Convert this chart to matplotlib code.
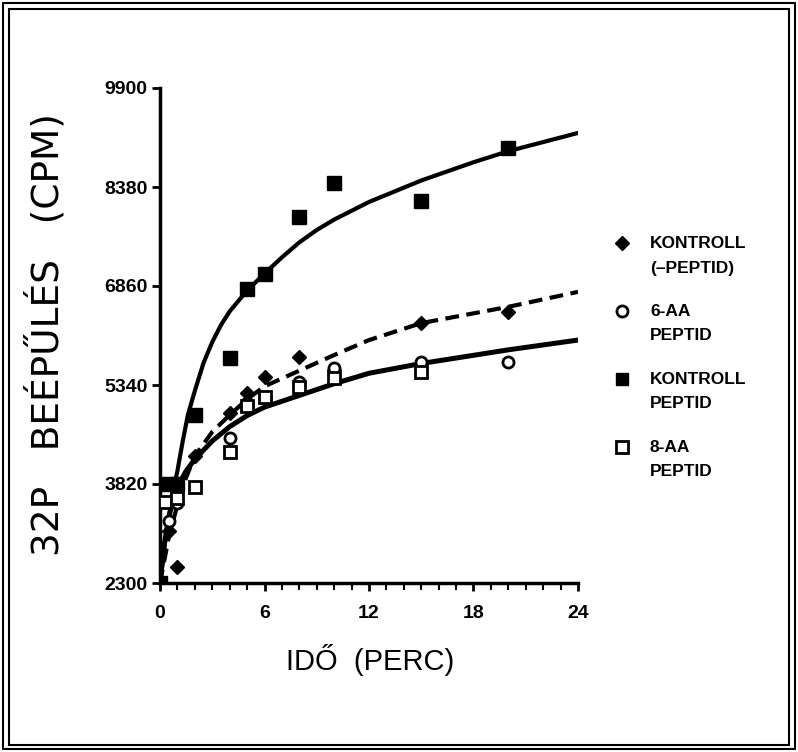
import matplotlib
matplotlib.use("Agg")
import matplotlib.pyplot as plt
from matplotlib.patches import Rectangle

plt.rcParams['font.family'] = ['Liberation Sans', 'DejaVu Sans']

# ---- data ----
x_kpep = [0, 0.5, 1, 2, 4, 5, 6, 8, 10, 15, 20]
y_kpep = [2300, 3820, 3820, 4880, 5750, 6810, 7040, 7920, 8440, 8160, 8980]

x_kmin = [0, 0.5, 1, 2, 4, 5, 6, 8, 10, 15, 20]
y_kmin = [2300, 3100, 2550, 4250, 4910, 5220, 5460, 5770, 5570, 6290, 6460]

x_6aa = [0.5, 1, 4, 5, 6, 8, 10, 15, 20]
y_6aa = [3250, 3530, 4530, 5060, 5140, 5390, 5600, 5700, 5690]

x_8aa = [0.3, 1, 2, 4, 5, 6, 8, 10, 15]
y_8aa = [3540, 3600, 3780, 4310, 5020, 5150, 5310, 5450, 5540]

# fitted curves as drawn in the picture
cx_top = [0, 0.25, 0.5, 0.75, 1, 1.3, 1.6, 2, 2.5, 3, 3.5, 4, 5, 6, 7, 8, 9, 10, 12, 15, 18, 20, 24]
cy_top = [2300, 2850, 3300, 3700, 4020, 4470, 4880, 5250, 5680, 6000, 6260, 6470, 6790, 7050,
          7300, 7530, 7720, 7880, 8150, 8480, 8760, 8930, 9210]

cx_dash = [0, 0.5, 1, 1.5, 2, 3, 4, 5, 6, 8, 10, 12, 15, 20, 24]
cy_dash = [2300, 3000, 3500, 3920, 4250, 4620, 4880, 5120, 5320, 5560, 5800, 6030, 6290, 6540, 6770]

cx_low = [0, 0.25, 0.5, 0.75, 1, 1.5, 2, 3, 4, 5, 6, 8, 10, 12, 15, 20, 24]
cy_low = [2300, 2900, 3300, 3580, 3780, 4020, 4200, 4480, 4700, 4870, 5000, 5180, 5360, 5520,
          5670, 5880, 6030]

xticks = [0, 6, 12, 18, 24]
yticks = [2300, 3820, 5340, 6860, 8380, 9900]

legend_labels = [("KONTROLL", "(–PEPTID)"), ("6-AA", "PEPTID"),
                 ("KONTROLL", "PEPTID"), ("8-AA", "PEPTID")]

# ---- figure ----
fig = plt.figure(figsize=(7.98, 7.52), dpi=100)
ax = fig.add_axes([160/798, 1-583/752, 418/798, 495/752])

ax.plot(cx_top, cy_top, color='black', lw=3.0, solid_capstyle='round',
        solid_joinstyle='round', zorder=2)
ax.plot(cx_dash, cy_dash, color='black', lw=3.0, ls=(0, (3.3, 1.8)), zorder=2)
ax.plot(cx_low, cy_low, color='black', lw=3.6, solid_capstyle='round',
        solid_joinstyle='round', zorder=2)

ax.plot(x_kpep, y_kpep, ls='none', marker='s', ms=10, color='black', zorder=3)
ax.plot(x_kmin, y_kmin, ls='none', marker='D', ms=7, color='black', zorder=3)
ax.plot(x_6aa, y_6aa, ls='none', marker='o', ms=8, mfc='white', mec='black', mew=2, zorder=4)
ax.plot(x_8aa, y_8aa, ls='none', marker='s', ms=8, mfc='white', mec='black', mew=2, zorder=4)

ax.set_xlim(0, 24)
ax.set_ylim(2300, 9900)
ax.set_xticks(xticks)
ax.set_xticks(range(0, 25), minor=True)
ax.set_yticks(yticks)
ax.tick_params(axis='x', direction='out', length=6, width=2, labelsize=14, pad=10)
ax.tick_params(axis='x', which='minor', direction='out', length=5, width=1.5)
ax.tick_params(axis='y', direction='out', length=6, width=2, labelsize=14, pad=3)
for lab in ax.get_xticklabels() + ax.get_yticklabels():
    lab.set_fontweight('bold')
for s in ['top', 'right']:
    ax.spines[s].set_visible(False)
for s in ['left', 'bottom']:
    ax.spines[s].set_linewidth(2.5)

fig.text(46/798, 1-335/752, "32P   BEÉPŰLÉS   (CPM)", rotation=90, fontsize=27,
         family='DejaVu Sans', ha='center', va='center')
fig.text(370/798, 1-660/752, "IDŐ  (PERC)", fontsize=21, ha='center', va='center')

# legend drawn by hand
leg_y = [243, 311, 379, 447]
leg_markers = [dict(marker='D', ms=7, color='black'),
               dict(marker='o', ms=8, mfc='white', mec='black', mew=2),
               dict(marker='s', ms=9, color='black'),
               dict(marker='s', ms=8, mfc='white', mec='black', mew=2)]
for yy, mk, (l1, l2) in zip(leg_y, leg_markers, legend_labels):
    fig.lines.append(plt.Line2D([622/798], [1-yy/752], ls='none', transform=fig.transFigure, **mk))
    fig.text(650/798, 1-yy/752, l1, fontsize=12.5, fontweight='bold', va='center', ha='left')
    fig.text(650/798, 1-(yy+25)/752, l2, fontsize=12.5, fontweight='bold', va='center', ha='left')

# double frame
fig.patches.append(Rectangle((3/798, 3/752), 792/798, 746/752, fill=False, lw=1.5,
                             ec='black', transform=fig.transFigure))
fig.patches.append(Rectangle((9/798, 7/752), 780/798, 736/752, fill=False, lw=1.5,
                             ec='black', transform=fig.transFigure))

fig.savefig("out.png", dpi=100)
